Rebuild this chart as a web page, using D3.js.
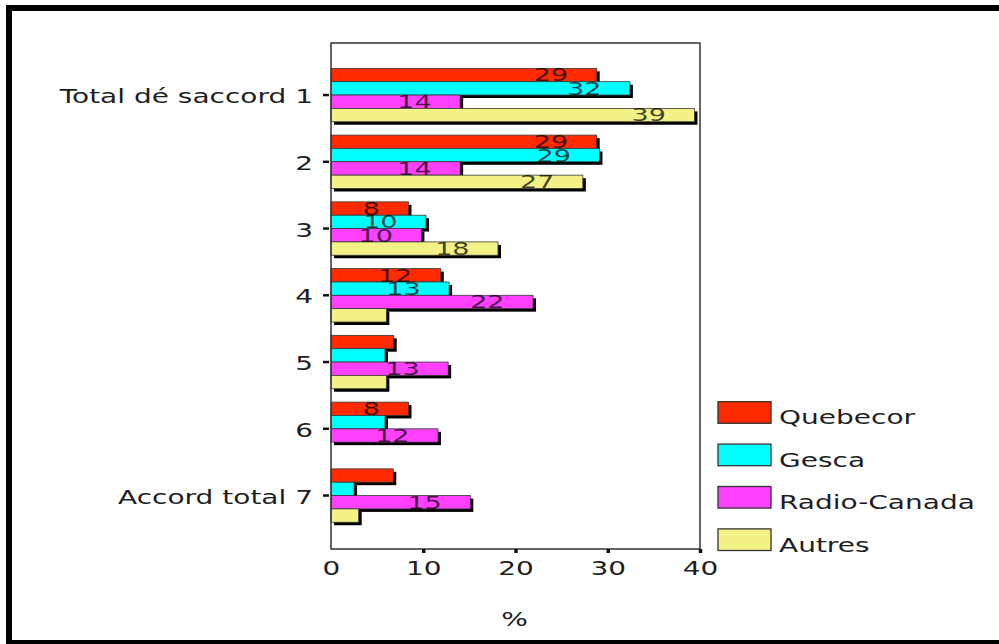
<!DOCTYPE html>
<html>
<head>
<meta charset="utf-8">
<script src="https://cdn.jsdelivr.net/npm/d3@7"></script>
<style>
  body { margin: 0; background: #fff; }
  svg { display: block; }
  text { font-family: "DejaVu Sans", Verdana, sans-serif; fill: #1e1e1e; }
</style>
</head>
<body>
<svg id="chart" width="999" height="644"></svg>
<script>
// ---- data ----
const categories = ["Total dé saccord 1", "2", "3", "4", "5", "6", "Accord total 7"];
const seriesNames = ["Quebecor", "Gesca", "Radio-Canada", "Autres"];
const quebecor    = [28.8, 28.8, 8.4, 11.9, 6.8, 8.4, 6.75];
const gesca       = [32.4, 29.1, 10.3, 12.8, 5.85, 5.85, 2.5];
const radioCanada = [14.0, 14.0, 9.8, 21.9, 12.7, 11.6, 15.1];
const autres      = [39.4, 27.3, 18.1, 6.0, 6.0, null, 3.0];
const xTicks = [0, 10, 20, 30, 40];
const xTitle = "%";

// ---- styling ----
const seriesColors = ["#ff2a00", "#00ffff", "#ff40ff", "#f2f286"];
const TEXT_STRETCH = 1.4;    // wide lettering
const VALUE_STRETCH = 1.5;

const series = [quebecor, gesca, radioCanada, autres];
const rows = categories.map((c, i) => ({
  category: c,
  values: series.map((s, j) => ({ key: seriesNames[j], idx: j, value: s[i] }))
}));

const svg = d3.select("#chart");

// outer frame
svg.append("rect")
  .attr("x", 9).attr("y", 8).attr("width", 1000).attr("height", 635)
  .attr("fill", "none").attr("stroke", "#000").attr("stroke-width", 6);

const plot = { left: 331, right: 700, top: 43, bottom: 549 };

const x = d3.scaleLinear().domain([0, 40]).range([plot.left, plot.right]);
const y = d3.scaleBand().domain(categories).range([55, 535.6]).padding(0.2);
const yInner = d3.scaleBand().domain(seriesNames).range([0, y.bandwidth()]);

// bars with drop shadows
const groups = svg.append("g").selectAll("g.grp")
  .data(rows).join("g")
  .attr("class", "grp")
  .attr("transform", d => `translate(0,${y(d.category)})`);

groups.each(function (d) {
  const g = d3.select(this);
  d.values.forEach(v => {
    if (v.value == null) return;
    const by = yInner(v.key), bh = yInner.bandwidth();
    g.append("rect")
      .attr("x", x(0) + 3).attr("y", by + 3)
      .attr("width", x(v.value) - x(0)).attr("height", bh)
      .attr("fill", "#000");
    g.append("rect")
      .attr("x", x(0)).attr("y", by)
      .attr("width", x(v.value) - x(0)).attr("height", bh)
      .attr("fill", seriesColors[v.idx])
      .attr("stroke", "#3a3a3a").attr("stroke-width", 0.8);
  });
});

// value labels
groups.each(function (d) {
  const g = d3.select(this);
  d.values.forEach(v => {
    if (v.value == null || v.value < 7.5) return;
    const by = yInner(v.key), bh = yInner.bandwidth();
    g.append("g")
      .attr("transform", `translate(${x(v.value) - 28.5},${by + bh - 0.3}) scale(${VALUE_STRETCH},1)`)
      .append("text")
      .attr("text-anchor", "end")
      .attr("font-size", 18)
      .style("fill", "#000").style("fill-opacity", 0.72)
      .text(d3.format(".0f")(v.value));
  });
});

// plot frame
svg.append("rect")
  .attr("x", plot.left).attr("y", plot.top)
  .attr("width", plot.right - plot.left).attr("height", plot.bottom - plot.top)
  .attr("fill", "none").attr("stroke", "#333").attr("stroke-width", 1.5);

// x axis
const xAxis = svg.append("g")
  .attr("transform", `translate(0,${plot.bottom})`)
  .call(d3.axisBottom(x).tickValues(xTicks).tickSize(4).tickFormat(d3.format("d")));
xAxis.select(".domain").remove();
xAxis.selectAll(".tick line").attr("stroke", "#111").attr("stroke-width", 3.5)
  .filter(d => d === 0).remove();
xAxis.selectAll(".tick text")
  .attr("y", 26).attr("dy", 0)
  .attr("font-size", 20).attr("font-family", null)
  .attr("transform", `scale(${TEXT_STRETCH},1)`)
  .style("fill", "#1e1e1e");

// y axis
const yAxis = svg.append("g")
  .attr("transform", `translate(329,0)`)
  .call(d3.axisLeft(y).tickSize(6).tickPadding(10));
yAxis.select(".domain").remove();
yAxis.selectAll(".tick line").attr("stroke", "#111").attr("stroke-width", 2.5);
yAxis.selectAll(".tick text")
  .attr("x", -16 / TEXT_STRETCH).attr("dy", 8)
  .attr("font-size", 20).attr("font-family", null)
  .attr("transform", `scale(${TEXT_STRETCH},1)`)
  .style("fill", "#1e1e1e");

// x title
svg.append("g")
  .attr("transform", `translate(${(plot.left + plot.right) / 2 - 1},626) scale(${TEXT_STRETCH},1)`)
  .append("text").attr("text-anchor", "middle").attr("font-size", 20).text(xTitle);

// legend
const legend = svg.append("g").selectAll("g")
  .data(seriesNames).join("g")
  .attr("transform", (d, i) => `translate(718,${401.7 + i * 42.4})`);
legend.append("rect")
  .attr("width", 53).attr("height", 21.6)
  .attr("fill", (d, i) => seriesColors[i])
  .attr("stroke", "#333").attr("stroke-width", 1.3);
legend.append("g")
  .attr("transform", `translate(61,22.6) scale(${TEXT_STRETCH},1)`)
  .append("text").attr("font-size", 20).text(d => d);
</script>
</body>
</html>
